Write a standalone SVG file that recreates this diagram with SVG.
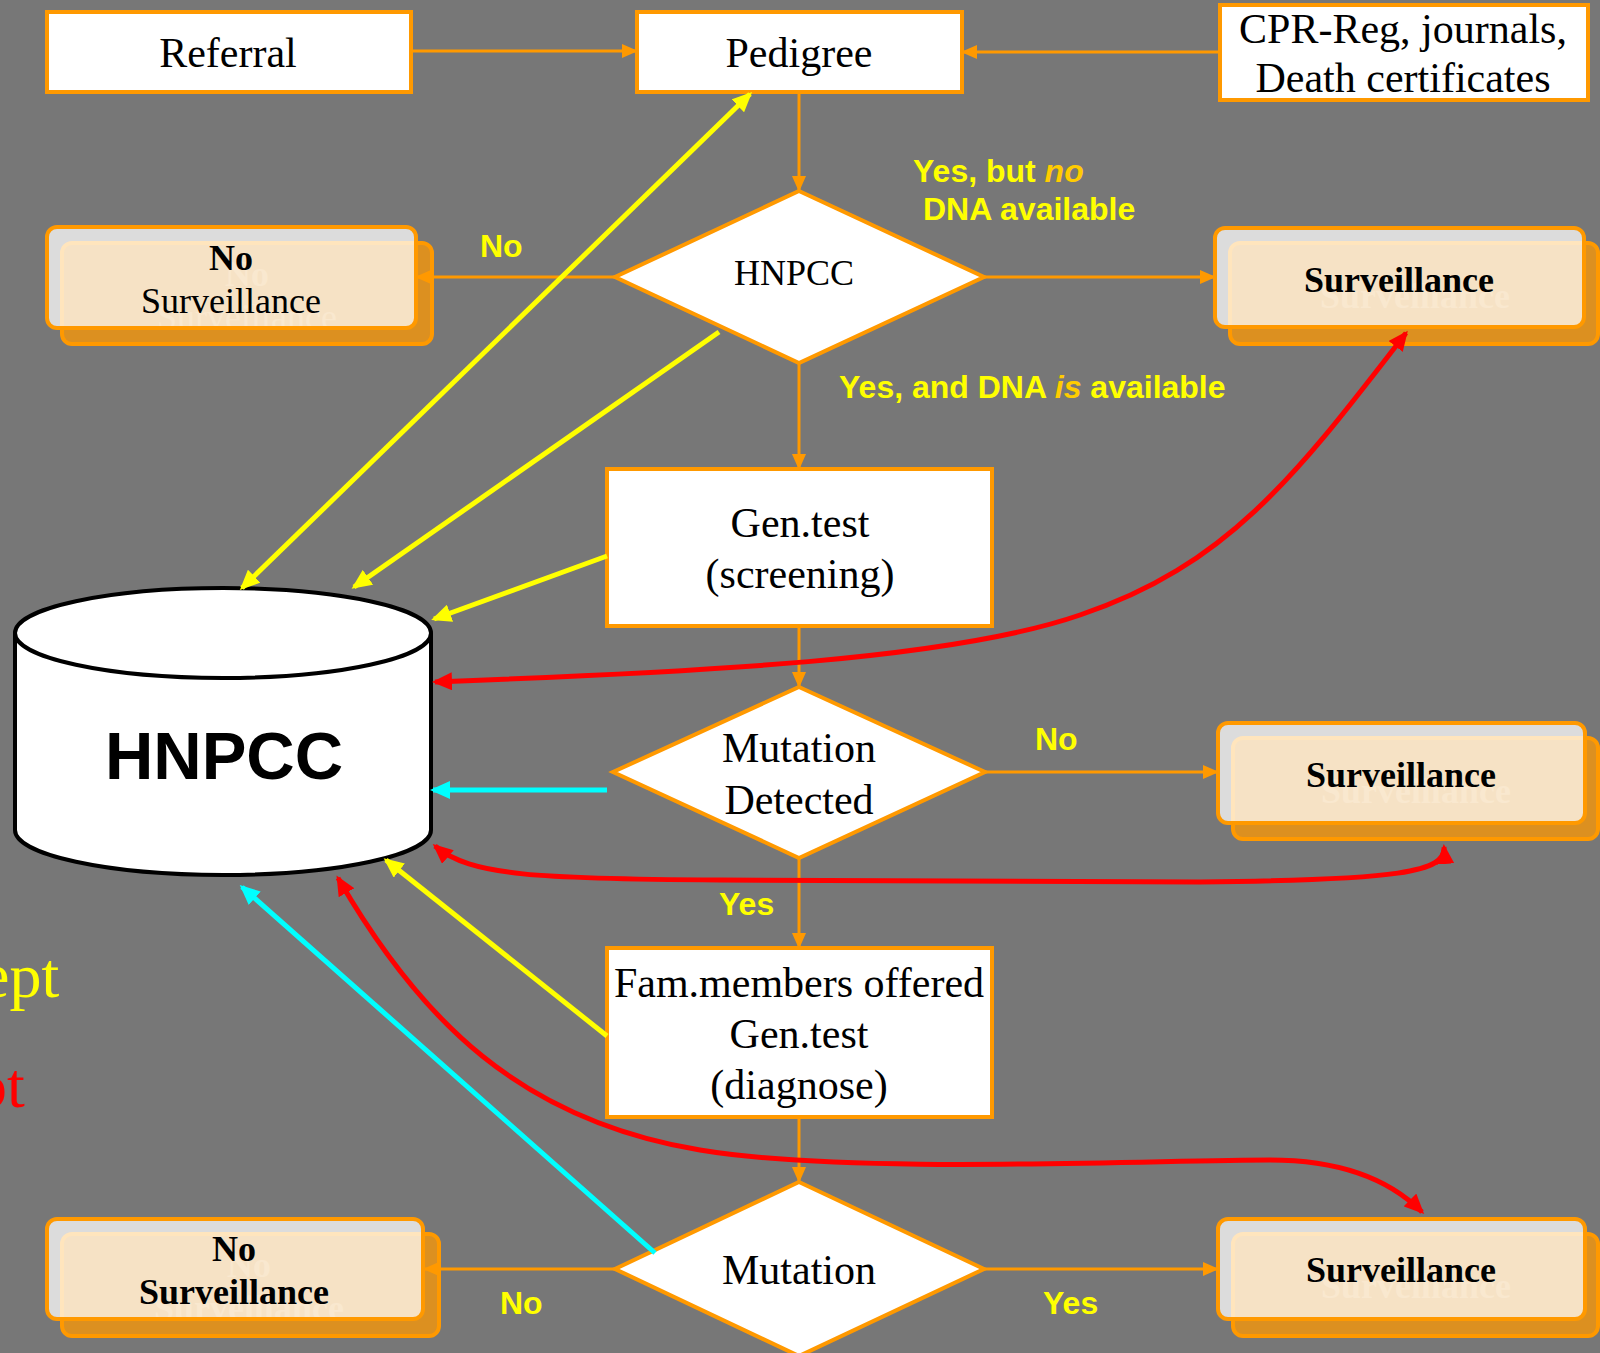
<svg xmlns="http://www.w3.org/2000/svg" width="1600" height="1353" viewBox="0 0 1600 1353">
<style>
.bx{fill:#FFFFFF;stroke:#FF9900;stroke-width:4}
.dm{fill:#FFFFFF;stroke:#FF9900;stroke-width:4;stroke-linejoin:miter}
.sh{fill:#DC9020;stroke:#FF9900;stroke-width:4}
.fr{fill:#FFFFFF;fill-opacity:0.74;stroke:#FF9900;stroke-width:4}
.t{font-family:"Liberation Serif","Times New Roman",serif;font-size:42px;fill:#000;text-anchor:middle}
.ts{font-family:"Liberation Serif","Times New Roman",serif;font-size:36px;fill:#000;text-anchor:middle}
.tb{font-weight:bold}
.gh{fill:#E9A646}
.lb{font-family:"Liberation Sans",Arial,sans-serif;font-size:32px;font-weight:bold;fill:#FFFF00}
.it{font-style:italic;fill:#FFCC00}
.co{fill:none;stroke:#FF9900;stroke-width:3}
.cy{fill:none;stroke:#FFFF00;stroke-width:5}
.cr{fill:none;stroke:#FF0000;stroke-width:5}
.cc{fill:none;stroke:#00FFFF;stroke-width:5}
</style>
<defs>
<marker id="ao" markerUnits="userSpaceOnUse" markerWidth="16" markerHeight="14" refX="14" refY="7" orient="auto-start-reverse"><path d="M0,0 L16,7 L0,14 z" fill="#FF9900"/></marker>
<marker id="ay" markerUnits="userSpaceOnUse" markerWidth="20" markerHeight="18" refX="17" refY="9" orient="auto-start-reverse"><path d="M0,0 L20,9 L0,18 z" fill="#FFFF00"/></marker>
<marker id="ar" markerUnits="userSpaceOnUse" markerWidth="20" markerHeight="18" refX="17" refY="9" orient="auto-start-reverse"><path d="M0,0 L20,9 L0,18 z" fill="#FF0000"/></marker>
<marker id="ac" markerUnits="userSpaceOnUse" markerWidth="20" markerHeight="18" refX="17" refY="9" orient="auto-start-reverse"><path d="M0,0 L20,9 L0,18 z" fill="#00FFFF"/></marker>
</defs>
<rect x="0" y="0" width="1600" height="1353" fill="#777777"/>

<text x="-19" y="997" font-family="Liberation Serif, Times New Roman, serif" font-size="64" fill="#FFFF00">ept</text>
<text x="-25" y="1107" font-family="Liberation Serif, Times New Roman, serif" font-size="64" fill="#FF0000">pt</text>

<g id="referral">
<rect class="bx" x="47" y="12" width="364" height="80"/>
<text class="t" x="228" y="67">Referral</text>
</g>
<g id="pedigree">
<rect class="bx" x="637" y="12" width="325" height="80"/>
<text class="t" x="799" y="67">Pedigree</text>
</g>
<g id="cpr">
<rect class="bx" x="1220" y="5" width="368" height="95"/>
<text class="t" x="1403" y="43">CPR-Reg, journals,</text>
<text class="t" x="1403" y="92">Death certificates</text>
</g>

<g id="hnpcc-decision">
<path class="dm" d="M799,191 L984,277 L799,363 L615,277 Z"/>
<text class="ts" x="794" y="285">HNPCC</text>
</g>

<g id="no-surveillance-1">
<rect class="sh" x="62" y="243" width="370" height="101" rx="10"/>
<text class="ts gh tb" x="247" y="286">No</text>
<text class="ts gh" x="247" y="329">Surveillance</text>
<rect class="fr" x="47" y="227" width="369" height="101" rx="10"/>
<text class="ts tb" x="231" y="270">No</text>
<text class="ts" x="231" y="313">Surveillance</text>
</g>

<g id="surveillance-1">
<rect class="sh" x="1230" y="243" width="368" height="101" rx="10"/>
<text class="ts gh tb" x="1415" y="308">Surveillance</text>
<rect class="fr" x="1215" y="228" width="369" height="99" rx="10"/>
<text class="ts tb" x="1399" y="292">Surveillance</text>
</g>

<g id="gentest-screening">
<rect class="bx" x="607" y="469" width="385" height="157"/>
<text class="t" x="800" y="537">Gen.test</text>
<text class="t" x="800" y="588">(screening)</text>
</g>

<g id="hnpcc-db">
<path d="M15,633 L15,830 A208,45 0 0 0 431,830 L431,633" fill="#FFFFFF" stroke="#000" stroke-width="4"/>
<ellipse cx="223" cy="633" rx="208" ry="45" fill="#FFFFFF" stroke="#000" stroke-width="4"/>
<text x="224" y="779" font-family="Liberation Sans, Arial, sans-serif" font-size="67" font-weight="bold" text-anchor="middle" fill="#000">HNPCC</text>
</g>

<g id="mutation-detected">
<path class="dm" d="M799,687 L985,772 L799,858 L613,772 Z"/>
<text class="t" x="799" y="762">Mutation</text>
<text class="t" x="799" y="814">Detected</text>
</g>

<g id="surveillance-2">
<rect class="sh" x="1233" y="738" width="365" height="101" rx="10"/>
<text class="ts gh tb" x="1416" y="803">Surveillance</text>
<rect class="fr" x="1218" y="723" width="367" height="100" rx="10"/>
<text class="ts tb" x="1401" y="787">Surveillance</text>
</g>

<g id="fam-members">
<rect class="bx" x="607" y="948" width="385" height="169"/>
<text class="t" x="799" y="997">Fam.members offered</text>
<text class="t" x="799" y="1048">Gen.test</text>
<text class="t" x="799" y="1099">(diagnose)</text>
</g>

<g id="mutation">
<path class="dm" d="M799,1182 L984,1269 L799,1356 L615,1269 Z"/>
<text class="t" x="799" y="1284">Mutation</text>
</g>

<g id="no-surveillance-2">
<rect class="sh" x="62" y="1234" width="377" height="102" rx="10"/>
<text class="ts gh tb" x="249" y="1277">No</text>
<text class="ts gh tb" x="249" y="1320">Surveillance</text>
<rect class="fr" x="47" y="1219" width="376" height="100" rx="10"/>
<text class="ts tb" x="234" y="1261">No</text>
<text class="ts tb" x="234" y="1304">Surveillance</text>
</g>

<g id="surveillance-3">
<rect class="sh" x="1233" y="1234" width="365" height="102" rx="10"/>
<text class="ts gh tb" x="1416" y="1298">Surveillance</text>
<rect class="fr" x="1218" y="1219" width="367" height="100" rx="10"/>
<text class="ts tb" x="1401" y="1282">Surveillance</text>
</g>

<g id="connectors">
<path class="co" marker-end="url(#ao)" d="M411,51 L636,51"/>
<path class="co" marker-end="url(#ao)" d="M1220,52 L963,52"/>
<path class="co" marker-end="url(#ao)" d="M799,92 L799,190"/>
<path class="co" marker-end="url(#ao)" d="M615,277 L417,277"/>
<path class="co" marker-end="url(#ao)" d="M984,277 L1214,277"/>
<path class="co" marker-end="url(#ao)" d="M799,363 L799,468"/>
<path class="co" marker-end="url(#ao)" d="M799,626 L799,686"/>
<path class="co" marker-end="url(#ao)" d="M985,772 L1217,772"/>
<path class="co" marker-end="url(#ao)" d="M799,858 L799,947"/>
<path class="co" marker-end="url(#ao)" d="M799,1117 L799,1181"/>
<path class="co" marker-end="url(#ao)" d="M615,1269 L425,1269"/>
<path class="co" marker-end="url(#ao)" d="M984,1269 L1217,1269"/>

<path class="cy" marker-start="url(#ay)" marker-end="url(#ay)" d="M242,588 L750,94"/>
<path class="cy" marker-end="url(#ay)" d="M719,332 L354,587"/>
<path class="cy" marker-end="url(#ay)" d="M607,556 L434,619"/>
<path class="cy" marker-end="url(#ay)" d="M607,1036 L386,860"/>

<path class="cc" marker-end="url(#ac)" d="M607,790 L433,790"/>
<path class="cc" marker-end="url(#ac)" d="M655,1253 L242,887"/>

<path class="cr" marker-start="url(#ar)" marker-end="url(#ar)" d="M435,682 C700,672 950,660 1080,615 C1230,565 1300,470 1406,333"/>
<path class="cr" marker-start="url(#ar)" marker-end="url(#ar)" d="M435,846 C470,876 540,879 720,880 L1200,882 C1400,880 1446,872 1444,847"/>
<path class="cr" marker-start="url(#ar)" marker-end="url(#ar)" d="M338,878 C420,1020 520,1120 700,1150 C850,1175 1150,1160 1270,1160 C1340,1160 1390,1180 1422,1212"/>

<text class="lb" x="913" y="182">Yes, but <tspan class="it">no</tspan></text>
<text class="lb" x="923" y="220">DNA available</text>
<text class="lb" x="480" y="257">No</text>
<text class="lb" x="839" y="398">Yes, and DNA <tspan class="it">is</tspan> available</text>
<text class="lb" x="1035" y="750">No</text>
<text class="lb" x="719" y="915">Yes</text>
<text class="lb" x="500" y="1314">No</text>
<text class="lb" x="1043" y="1314">Yes</text>
</g>
</svg>
